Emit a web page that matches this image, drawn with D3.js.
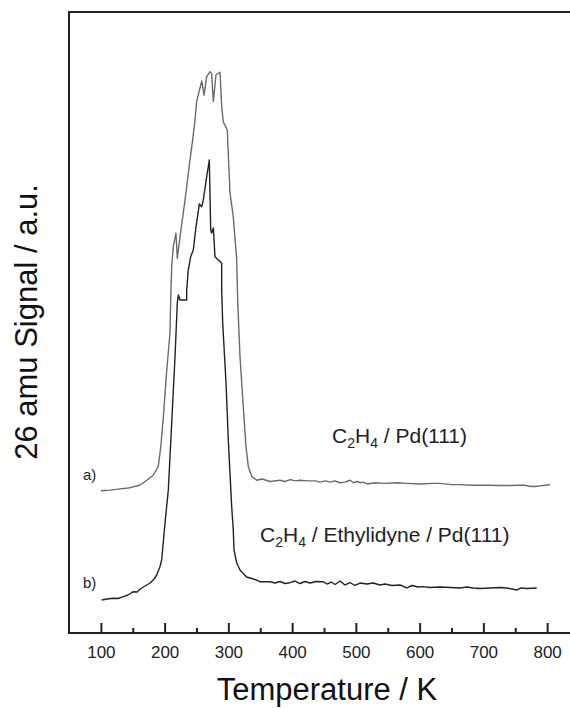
<!DOCTYPE html>
<html>
<head>
<meta charset="utf-8">
<script src="https://cdn.jsdelivr.net/npm/d3@7"></script>
<style>
	body { margin: 0; overflow: hidden; background: #fff; }
	text { font-family: "Liberation Sans", Arial, sans-serif; }
</style>
</head>
<body>
<div id="chart"></div>
<script>
// curve a) C2H4 / Pd(111)
var tempA = [100, 114, 130, 146, 161, 172, 182, 190, 194, 198, 203,
	208.4, 209.5, 211.1, 213.6, 217.8, 219.9, 224.1, 232, 239.8, 244, 247.6, 250.3, 258.2, 261.8,
	266, 271.2, 273.8, 276.4, 280.6, 286.9, 289.5, 292, 298.3, 302.5, 307.7, 313.1, 314.6, 318.2,
	323.4, 327.6, 331.3, 336.6, 344.4, 352.7, 365.3,
	381, 389, 397, 405, 412, 424, 436, 444, 452, 460, 467, 475, 483, 491, 496, 502, 508, 512, 518,
	530, 545, 565, 580, 600, 620, 632, 650, 663, 684, 700, 710, 725, 742, 755, 765, 775, 781, 789, 797, 805];
var signalA = [22.9, 23.0, 23.2, 23.4, 23.8, 24.6, 25.4, 26.8, 30.0, 34.8, 41.9,
	48.3, 53.6, 59.0, 62.2, 64.4, 60.3, 63.8, 69.7, 76.2, 79.4, 82.6, 85.6, 88.9, 86.6,
	89.6, 90.4, 90.0, 85.6, 89.9, 90.3, 84.8, 82.3, 81.0, 70.9, 67.0, 60.1, 53.6, 44.5,
	36.4, 30.0, 26.8, 25.2, 24.6, 24.8, 24.4,
	24.6, 24.4, 24.7, 24.5, 24.6, 24.5, 24.5, 24.3, 24.5, 24.3, 24.5, 24.2, 24.3, 24.6, 24.2, 24.4, 24.2, 24.3, 24.0,
	24.2, 24.1, 24.2, 24.1, 24.0, 24.1, 24.1, 23.9, 23.9, 23.8, 23.8, 23.8, 23.75, 23.75, 23.8, 23.8, 23.6, 23.6, 23.7, 23.8, 23.9];

// curve b) C2H4 / Ethylidyne / Pd(111)
var tempB = [101.3, 109.6, 119.5, 126.9, 135.2, 142.5, 150.9, 156.7, 161.4, 166.5, 171.9, 177.1, 182.2,
	187.6, 192.7, 195.4, 200.6, 205.8, 211.1, 216.3, 219.9, 221.5, 224.1, 234.6, 234.6, 237.1, 240.9,
	245, 249.2, 252.8, 254.4, 258.2, 260.7, 266, 270.1, 272.3, 273.8, 276.4, 279, 284.2, 289.5, 289.5,
	291.1, 296.3, 299.9, 305.2, 307.7, 308.8, 313.1, 318.2, 328.7, 333.9, 344.4, 349.6,
	365.3, 373.1, 381, 388.8, 396.7, 404.5, 412.4, 420.2, 428.1, 437.5, 448.4, 454.7, 461, 467.3, 475.1,
	483, 490.8, 498.6, 506.5, 517.5, 526.9, 537.9, 545.7, 556.7, 569.3, 579.8, 588.2, 597.5, 605.3,
	616.3, 632, 647.6, 663.3, 674.3, 683.7, 694.7, 710.4, 726.1, 736.6, 744.9, 752.3, 759, 768.4, 783.6];
var signalB = [5.31, 5.48, 5.59, 5.56, 5.85, 6.12, 6.65, 6.6, 7.04, 7.41, 7.73, 8.05, 8.53,
	9.34, 10.68, 11.76, 17.71, 23.03, 33.82, 44.49, 53.14, 54.43, 53.62, 53.62, 55.23, 58.45, 60.6,
	61.67, 65.43, 67.84, 69.08, 68.65, 69.73, 73.48, 76.17, 64.9, 64.41, 65.22, 60.6, 60.06, 59.53, 55.23,
	49.92, 40.26, 31.08, 20.34, 16.59, 13.37, 11.27, 10.14, 9.02, 8.86, 8.53, 8.26,
	8.26, 8.05, 8.29, 7.97, 8.1, 8.37, 7.97, 8.29, 8.05, 8.29, 8.26, 7.89, 8.21, 7.81, 8.37,
	7.73, 8.13, 7.65, 8.05, 7.89, 8.05, 7.73, 7.89, 7.65, 7.73, 7.25, 7.65, 7.41, 7.46,
	7.33, 7.41, 7.33, 7.25, 7.41, 7.25, 7.17, 7.25, 7.33, 7.25, 7.09, 6.92, 7.25, 7.17, 7.25];

var xTicks = [100, 200, 300, 400, 500, 600, 700, 800];
var xMinorTicks = [150, 250, 350, 450, 550, 650, 750];

var width = 570;
var height = 708;
var plotLeft = 69, plotRight = 579, plotTop = 12, plotBottom = 633;

var svg = d3.select("#chart")
	.append("svg")
	.attr("width", width)
	.attr("height", height);

var x = d3.scaleLinear().domain([50, 850]).range([plotLeft, plotRight]);
var y = d3.scaleLinear().domain([0, 100]).range([plotBottom, plotTop]);

// frame
svg.append("rect")
	.attr("x", plotLeft).attr("y", plotTop)
	.attr("width", plotRight - plotLeft).attr("height", plotBottom - plotTop)
	.style("fill", "none")
	.style("stroke", "#222")
	.style("stroke-width", 2);

// ticks inside the frame
svg.append("g")
	.attr("transform", "translate(0," + plotBottom + ")")
	.call(d3.axisTop(x).tickValues(xMinorTicks).tickSize(5).tickFormat(""))
	.call(g => g.select(".domain").remove())
	.selectAll("line").style("stroke", "#222").style("stroke-width", 2);

var xAxis = svg.append("g")
	.attr("transform", "translate(0," + plotBottom + ")")
	.call(d3.axisTop(x).tickValues(xTicks).tickSize(10).tickPadding(0));
xAxis.select(".domain").remove();
xAxis.selectAll("line").style("stroke", "#222").style("stroke-width", 2);
xAxis.selectAll("text")
	.attr("y", 25)
	.attr("dy", 0)
	.style("font-size", "17px")
	.style("fill", "#222")
	.style("font-family", "'Liberation Sans', Arial, sans-serif");

// curves
var lineA = d3.line().x((d, i) => x(tempA[i])).y(d => y(d));
var lineB = d3.line().x((d, i) => x(tempB[i])).y(d => y(d));

svg.append("path")
	.attr("d", lineA(signalA))
	.style("fill", "none")
	.style("stroke", "#6a6a6a")
	.style("stroke-width", 1.4)
	.style("stroke-linejoin", "round");

svg.append("path")
	.attr("d", lineB(signalB))
	.style("fill", "none")
	.style("stroke", "#222")
	.style("stroke-width", 1.4)
	.style("stroke-linejoin", "round");

// labels
svg.append("text").attr("x", 83).attr("y", 480).text("a)")
	.style("font-size", "15px").style("fill", "#222");
svg.append("text").attr("x", 83).attr("y", 588).text("b)")
	.style("font-size", "15px").style("fill", "#222");

function formula(tx, ty, rest) {
	var t = svg.append("text").attr("x", tx).attr("y", ty)
		.style("font-size", "21px").style("fill", "#222");
	t.append("tspan").text("C");
	t.append("tspan").text("2").attr("dy", 5).style("font-size", "14px");
	t.append("tspan").text("H").attr("dy", -5);
	t.append("tspan").text("4").attr("dy", 5).style("font-size", "14px");
	t.append("tspan").text(rest).attr("dy", -5);
}
formula(332, 443, " / Pd(111)");
formula(260, 542, " / Ethylidyne / Pd(111)");

svg.append("text")
	.attr("x", 327).attr("y", 700)
	.attr("text-anchor", "middle")
	.style("font-size", "31px")
	.style("fill", "#111")
	.text("Temperature / K");

svg.append("text")
	.attr("transform", "translate(37,322) rotate(-90)")
	.attr("text-anchor", "middle")
	.style("font-size", "31px")
	.style("fill", "#111")
	.text("26 amu Signal / a.u.");
</script>
</body>
</html>
